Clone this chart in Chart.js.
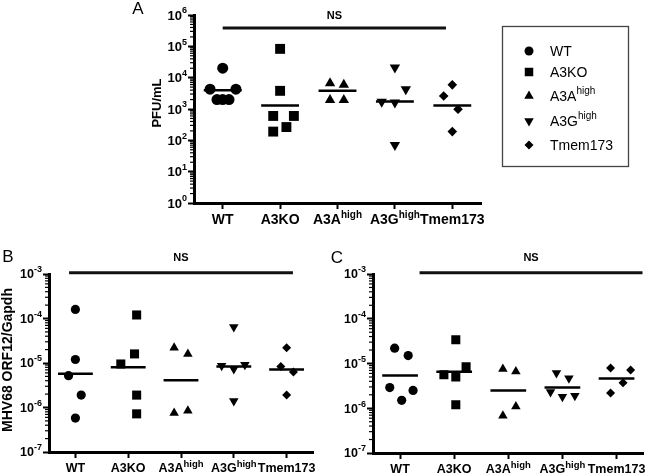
<!DOCTYPE html>
<html><head><meta charset="utf-8">
<script src="https://cdn.jsdelivr.net/npm/chart.js@4/dist/chart.umd.min.js"></script>
<style>
html,body{margin:0;padding:0;background:#fff;width:650px;height:476px;overflow:hidden;position:relative;}
canvas{position:absolute;}
</style></head><body>
<canvas id="cA" width="650" height="240" style="left:0;top:0"></canvas>
<canvas id="cB" width="325" height="236" style="left:0;top:240px"></canvas>
<canvas id="cC" width="325" height="236" style="left:325px;top:240px"></canvas>
<script>
// ---------- data ----------
const groupNames = ['WT', 'A3KO', 'A3A', 'A3G', 'Tmem173'];
const groupSups  = ['', '', 'high', 'high', ''];

// Panel A: PFU/mL
const pfuValues = [
  [20000, 4300, 4300, 2000, 2000, 2000],
  [83000, 3800, 600, 600, 265, 190],
  [6600, 5900, 1950, 1950],
  [21000, 4300, 1700, 1600, 71],
  [5900, 2600, 980, 190]
];
const pfuJitter = [
  [0, -0.22, 0.23, -0.10, 0, 0.11],
  [0, 0, -0.12, 0.24, 0.11, -0.12],
  [-0.13, 0.11, -0.13, 0.11],
  [0, 0.19, -0.23, 0, 0],
  [0, -0.15, 0.10, 0]
];
const pfuMeans = [4000, 1300, 3800, 1730, 1300];
const pfuNsSpan = [0, 3.89];
const pfuNsLevel = 3.85e5;

// Panel B: MHV68 ORF12/Gapdh
const orfBValues = [
  [1.6e-4, 1.2e-5, 5.2e-6, 1.9e-6, 5.8e-7],
  [1.2e-4, 1.6e-5, 9.5e-6, 1.9e-6, 7.2e-7],
  [2.2e-5, 1.6e-5, 7.5e-7, 8.5e-7],
  [6.4e-5, 8.7e-6, 9.1e-6, 7.3e-6, 1.4e-6],
  [2.2e-5, 8.3e-6, 6.3e-6, 1.9e-6]
];
const orfBJitter = [
  [0, 0, -0.13, 0.11, 0],
  [0.16, 0.12, -0.14, 0.16, 0.16],
  [-0.13, 0.13, -0.13, 0.13],
  [0, -0.23, 0.21, 0, 0],
  [0, -0.11, 0.13, 0]
];
const orfBMeans = [5.7e-6, 8.0e-6, 4.1e-6, 8.3e-6, 7.1e-6];
const orfBNsSpan = [-0.12, 4.12];
const orfBNsLevel = 1.06e-3;

// Panel C: MHV68 ORF12/Gapdh
const orfCValues = [
  [2.2e-5, 1.5e-5, 2.9e-6, 2.5e-6, 1.5e-6],
  [3.4e-5, 8.5e-6, 5.6e-6, 5.0e-6, 1.2e-6],
  [7.5e-6, 6.6e-6, 1.1e-6, 6.8e-7],
  [6.1e-6, 4.7e-6, 2.3e-6, 1.8e-6, 1.9e-6],
  [7.9e-6, 7.2e-6, 3.7e-6, 2.2e-6]
];
const orfCJitter = [
  [-0.10, 0.15, -0.19, 0.24, 0.03],
  [0.03, 0.22, -0.19, 0.03, 0.03],
  [-0.10, 0.14, 0.14, -0.10],
  [-0.11, 0.12, -0.22, 0, 0.23],
  [-0.11, 0.26, 0.12, -0.11]
];
const orfCMeans = [5.4e-6, 6.5e-6, 2.5e-6, 2.9e-6, 4.6e-6];
const orfCNsSpan = [0.36, 4.48];
const orfCNsLevel = 1.06e-3;

// ---------- styling ----------
const FAM = '"Liberation Sans", Arial, sans-serif';
const markerStyles = [
  {pointStyle: 'circle', rotation: 0},
  {pointStyle: 'rect', rotation: 0},
  {pointStyle: 'triangle', rotation: 0},
  {pointStyle: 'triangle', rotation: 180},
  {pointStyle: 'rectRot', rotation: 0}
];

function drawSup(ctx, base, sup, x, y, baseFont, supFont, align, raise) {
  ctx.font = baseFont; const bw = ctx.measureText(base).width;
  ctx.font = supFont; const sw = sup ? ctx.measureText(sup).width : 0;
  let x0 = align === 'center' ? x - (bw + sw) / 2 : (align === 'right' ? x - bw - sw : x);
  ctx.textAlign = 'left'; ctx.textBaseline = 'middle';
  ctx.font = baseFont; ctx.fillText(base, x0, y);
  if (sup) { ctx.font = supFont; ctx.fillText(sup, x0 + bw, y - raise); }
}

function makePanel(o) {
  const canvas = document.getElementById(o.id);
  const W = canvas.width, H = canvas.height;
  const datasets = [];
  o.values.forEach((vals, i) => {
    datasets.push({
      type: 'scatter',
      data: vals.map((v, k) => ({x: i + o.jitter[i][k], y: v})),
      pointStyle: markerStyles[i].pointStyle,
      rotation: markerStyles[i].rotation,
      pointRadius: o.radii[i],
      backgroundColor: '#000', borderColor: '#000', borderWidth: 0,
      showLine: false
    });
    datasets.push({
      type: 'line',
      data: [{x: i - 0.33, y: o.means[i]}, {x: i + 0.33, y: o.means[i]}],
      borderColor: '#000', borderWidth: 2.5, pointRadius: 0, fill: false
    });
  });
  datasets.push({
    type: 'line',
    data: [{x: o.nsSpan[0], y: o.nsLevel}, {x: o.nsSpan[1], y: o.nsLevel}],
    borderColor: '#111', borderWidth: 3, pointRadius: 0, fill: false, clip: false
  });
  const eMin = Math.round(Math.log10(o.yMin)), eMax = Math.round(Math.log10(o.yMax));
  const gridOpt = {display: true, drawOnChartArea: false, drawTicks: true, tickLength: 6, tickWidth: 2, tickColor: '#000'};
  const borderOpt = {display: true, color: '#000', width: 3};
  const deco = {
    id: 'deco',
    afterDraw(chart) {
      const ctx = chart.ctx, xs = chart.scales.x, ys = chart.scales.y, a = chart.chartArea;
      ctx.save();
      ctx.fillStyle = '#000'; ctx.strokeStyle = '#000';
      // minor ticks
      ctx.lineWidth = 1.2;
      for (let e = eMin; e < eMax; e++) {
        for (let k = 2; k <= 9; k++) {
          const y = ys.getPixelForValue(k * Math.pow(10, e));
          ctx.beginPath(); ctx.moveTo(a.left - 4, y); ctx.lineTo(a.left, y); ctx.stroke();
        }
      }
      // y tick labels
      ys.ticks.forEach(t => {
        const e = Math.round(Math.log10(t.value));
        drawSup(ctx, '10', String(e), a.left - 7, ys.getPixelForValue(t.value) + 1,
          o.yFont, o.ySupFont, 'right', o.ySupRaise);
      });
      // x tick labels
      groupNames.forEach((g, i) => {
        drawSup(ctx, g, groupSups[i], xs.getPixelForValue(i), a.bottom + 17,
          o.xFont, o.xSupFont, 'center', o.xSupRaise);
      });
      // NS text
      const nx = (xs.getPixelForValue(o.nsSpan[0]) + xs.getPixelForValue(o.nsSpan[1])) / 2;
      ctx.font = 'bold 11px ' + FAM; ctx.textAlign = 'center'; ctx.textBaseline = 'middle';
      ctx.fillText('NS', nx, ys.getPixelForValue(o.nsLevel) - o.nsDy);
      // panel letter
      ctx.font = '17px ' + FAM; ctx.textAlign = 'center'; ctx.textBaseline = 'middle';
      ctx.fillText(o.letter, o.letterPos[0], o.letterPos[1]);
      // y title
      if (o.yTitle) {
        ctx.save();
        ctx.translate(o.yTitlePos[0], o.yTitlePos[1]); ctx.rotate(-Math.PI / 2);
        ctx.font = o.yTitleFont; ctx.textAlign = 'center'; ctx.textBaseline = 'middle';
        ctx.fillText(o.yTitle, 0, 0);
        ctx.restore();
      }
      // legend
      if (o.legend) {
        const L = o.legend;
        ctx.strokeStyle = '#444'; ctx.lineWidth = 1.3;
        ctx.strokeRect(L.box[0], L.box[1], L.box[2], L.box[3]);
        ctx.fillStyle = '#000';
        groupNames.forEach((g, i) => {
          const y = L.ys[i];
          Chart.helpers.drawPoint(ctx, {pointStyle: markerStyles[i].pointStyle, rotation: markerStyles[i].rotation,
            radius: L.radii[i], borderWidth: 0}, L.markerX, y);
          ctx.fillStyle = '#000';
          drawSup(ctx, g, groupSups[i], L.textX, y + 1, '14px ' + FAM, '10px ' + FAM, 'left', 6);
        });
      }
      ctx.restore();
    }
  };
  return new Chart(canvas, {
    type: 'scatter',
    data: {datasets},
    options: {
      responsive: false, animation: false, devicePixelRatio: 1,
      layout: {padding: {left: 0, top: o.area.top, right: W - o.area.right, bottom: 0}},
      plugins: {legend: {display: false}, tooltip: {enabled: false}},
      scales: {
        x: {
          type: 'linear', min: -0.5, max: 4.5,
          afterBuildTicks: s => { s.ticks = groupNames.map((g, i) => ({value: i})); },
          afterFit: s => { s.height = H - o.area.bottom; },
          ticks: {display: false},
          grid: gridOpt, border: borderOpt
        },
        y: {
          type: 'logarithmic', min: o.yMin, max: o.yMax,
          afterBuildTicks: s => {
            const t = [];
            for (let e = eMin; e <= eMax; e++) t.push({value: Number('1e' + e), major: true});
            s.ticks = t;
          },
          afterFit: s => { s.width = o.area.left; },
          ticks: {display: false},
          grid: gridOpt, border: borderOpt
        }
      }
    },
    plugins: [deco]
  });
}

makePanel({
  id: 'cA', area: {left: 194, right: 481, top: 15, bottom: 203},
  yMin: 1, yMax: 1e6,
  values: pfuValues, jitter: pfuJitter, means: pfuMeans,
  nsSpan: pfuNsSpan, nsLevel: pfuNsLevel, nsDy: 12,
  radii: [5.5, 7, 6, 6, 4.8],
  yFont: 'bold 13px ' + FAM, ySupFont: 'bold 9px ' + FAM, ySupRaise: 5,
  xFont: 'bold 14px ' + FAM, xSupFont: 'bold 10px ' + FAM, xSupRaise: 5,
  letter: 'A', letterPos: [138, 9],
  yTitle: 'PFU/mL', yTitlePos: [157, 103], yTitleFont: 'bold 13px ' + FAM,
  legend: {box: [502.5, 26.5, 126, 140], markerX: 529, textX: 550,
           ys: [51, 72, 96, 121, 145], radii: [4.5, 6, 5.5, 5.5, 4.5]}
});
makePanel({
  id: 'cB', area: {left: 49, right: 313, top: 34, bottom: 212},
  yMin: 1e-7, yMax: 1e-3,
  values: orfBValues, jitter: orfBJitter, means: orfBMeans,
  nsSpan: orfBNsSpan, nsLevel: orfBNsLevel, nsDy: 15,
  radii: [4.6, 6.4, 5.5, 5.5, 4.5],
  yFont: 'bold 12.5px ' + FAM, ySupFont: 'bold 9px ' + FAM, ySupRaise: 5,
  xFont: 'bold 12.5px ' + FAM, xSupFont: 'bold 9.5px ' + FAM, xSupRaise: 5,
  letter: 'B', letterPos: [8, 17],
  yTitle: 'MHV68 ORF12/Gapdh', yTitlePos: [8, 120], yTitleFont: 'bold 14px ' + FAM
});
makePanel({
  id: 'cC', area: {left: 48, right: 320, top: 34, bottom: 213},
  yMin: 1e-7, yMax: 1e-3,
  values: orfCValues, jitter: orfCJitter, means: orfCMeans,
  nsSpan: orfCNsSpan, nsLevel: orfCNsLevel, nsDy: 15,
  radii: [4.6, 6.4, 5.5, 5.5, 4.5],
  yFont: 'bold 12.5px ' + FAM, ySupFont: 'bold 9px ' + FAM, ySupRaise: 5,
  xFont: 'bold 12.5px ' + FAM, xSupFont: 'bold 9.5px ' + FAM, xSupRaise: 5,
  letter: 'C', letterPos: [12, 18]
});
</script>
</body></html>
